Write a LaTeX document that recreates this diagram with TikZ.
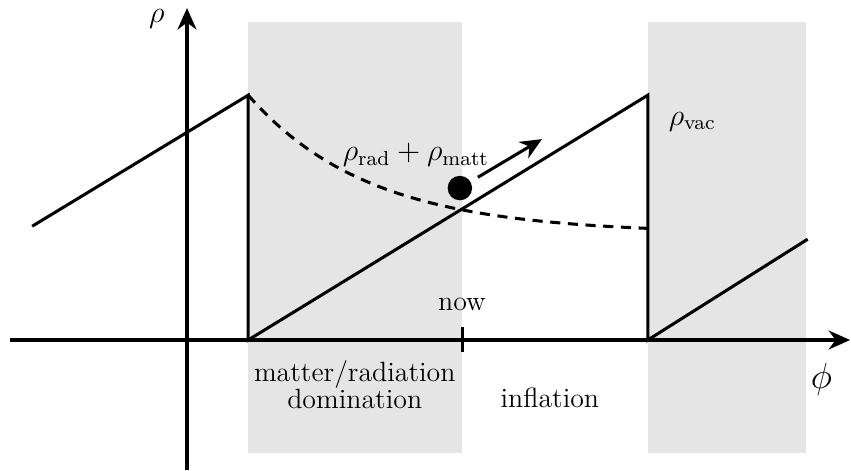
\documentclass[tikz,border=0pt]{standalone}
\usepackage{amsmath, amsfonts, amssymb}
\usetikzlibrary{arrows.meta}

\begin{document}
\begin{tikzpicture}[very thick, >={Stealth[length=8.5pt,width=7.5pt]},
    txt/.style={font=\fontsize{11}{10.6}\selectfont},
    sym/.style={font=\large}]
    \useasboundingbox (-2.597,-1.806) rectangle (9.222,4.722);

    % --- Shaded eras ---
    \def\eraMatter{(0.85,-1.57) rectangle (3.82,4.42)}
    \def\eraVac{(6.40,-1.57) rectangle (8.60,4.42)}
    \fill[gray!20] \eraMatter;
    \fill[gray!20] \eraVac;

    % Axes
    \draw[->] (-2.46,0) -- (9.21,0);
    \draw[->] (0,-1.81) -- (0,4.61);
    \node[sym] (rho) at (-0.42,4.46) {$\rho$};
    \node[font=\Large] (phi) at (8.81,-0.55) {$\phi$};

    % Sawtooth of vacuum energy
    \draw (-2.15,1.58) -- (0.85,3.40) -- (0.85,0) -- (6.40,3.40) -- (6.40,0) -- (8.62,1.40);

    % Decaying radiation + matter density
    \draw[dash pattern=on 4pt off 3pt] plot[domain=0.85:6.40, samples=60, smooth]
        (\x,{1.48+1.92*exp(-(\x-0.85)/1.68)});

    % Rolling ball
    \node[circle, fill, inner sep=0pt, minimum size=0.34cm] (ball) at (3.79,2.11) {};
    \coordinate (rollA) at (4.04,2.26);
    \coordinate (rollB) at (4.93,2.79);
    \draw[->] (rollA) -- (rollB);

    % Now tick
    \coordinate (tickTop) at (3.82,0.18);
    \coordinate (tickBot) at (3.82,-0.17);
    \draw (tickTop) -- (tickBot);
    \node[txt] (now) at (3.82,0.49) {now};

    % Labels
    \node[sym] (rhoRM) at (3.18,2.57) {$\rho_{\text{rad}} + \rho_{\text{matt}}$};
    \node[sym] (rhoVac) at (7.02,3.03) {$\rho_{\text{vac}}$};
    \node[txt, align=center] (matter) at (2.33,-0.625) {matter/radiation\\domination};
    \node[txt] (inflation) at (5.04,-0.81) {inflation};
\end{tikzpicture}
\end{document}
